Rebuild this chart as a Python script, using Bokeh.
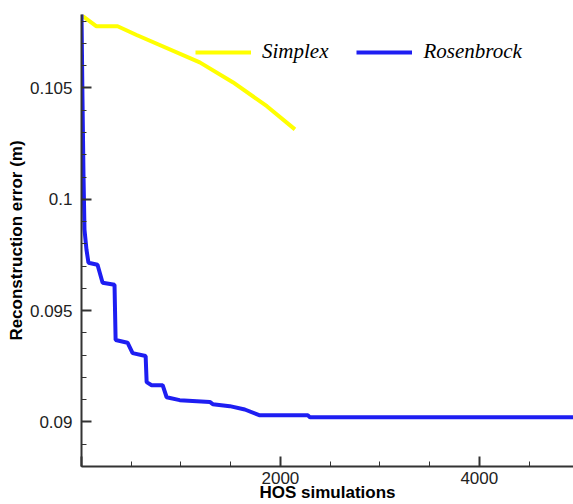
from bokeh.plotting import figure
from bokeh.models import (SingleIntervalTicker, CustomJSTickFormatter, Range1d,
                          Legend, LegendItem)
from bokeh.embed import file_html
from bokeh.resources import INLINE

# Simplex curve (HOS simulations, reconstruction error in m)
simplex_x = [0, 151, 363, 554, 1189, 1521, 1864, 2146]
simplex_y = [0.10827, 0.10777, 0.10777, 0.10738, 0.10615, 0.10526, 0.10418, 0.10314]

# Rosenbrock curve
rosen_x = [0, 10, 20, 30, 50, 70, 161, 212, 332, 343, 463, 514, 645, 655, 705,
           816, 856, 987, 1290, 1320, 1491, 1642, 1793, 2277, 2297, 5000]
rosen_y = [0.10832, 0.10449, 0.10111, 0.09864, 0.09774, 0.09715, 0.09706, 0.09625,
           0.09616, 0.09368, 0.09356, 0.09309, 0.09296, 0.09179, 0.09165, 0.09165,
           0.09111, 0.09098, 0.09090, 0.09080, 0.09071, 0.09056, 0.09030, 0.09030,
           0.09021, 0.09021]

series_names = ["Simplex", "Rosenbrock"]
x_label = "HOS simulations"
y_label = "Reconstruction error (m)"

p = figure(width=573, height=504, x_range=Range1d(0, 4947), y_range=Range1d(0.088, 0.1083),
           output_backend="svg", toolbar_location=None,
           min_border_left=81, min_border_top=14, min_border_right=0, min_border_bottom=38)
p.background_fill_color = "white"
p.border_fill_color = "white"
p.outline_line_color = None
p.xgrid.visible = False
p.ygrid.visible = False

r1 = p.line(simplex_x, simplex_y, line_color="#ffff00", line_width=4)
r2 = p.line(rosen_x, rosen_y, line_color="#1e1ef2", line_width=4)

legend = Legend(items=[LegendItem(label=series_names[0], renderers=[r1]),
                       LegendItem(label=series_names[1], renderers=[r2])],
                orientation="horizontal", location=(114, 402),
                glyph_width=56, glyph_height=20, label_standoff=11, spacing=28,
                padding=0, margin=0, border_line_color=None, background_fill_alpha=0,
                label_text_font="Liberation Serif", label_text_font_style="italic",
                label_text_font_size="21px", label_text_color="black")
p.add_layout(legend)

for ax in (p.xaxis[0], p.yaxis[0]):
    ax.axis_line_color = "#333333"
    ax.axis_line_width = 2
    ax.major_tick_line_color = "#333333"
    ax.major_tick_line_width = 2
    ax.minor_tick_line_color = "#333333"
    ax.minor_tick_line_width = 1
    ax.major_tick_in = 10
    ax.major_tick_out = 0
    ax.minor_tick_in = 5
    ax.minor_tick_out = 0
    ax.major_label_text_font = "Liberation Sans"
    ax.major_label_text_font_size = "17px"
    ax.major_label_text_color = "#222222"
    ax.axis_label_text_font = "Liberation Sans"
    ax.axis_label_text_font_style = "bold"
    ax.axis_label_text_font_size = "17px"
    ax.axis_label_text_color = "black"

p.xaxis[0].ticker = SingleIntervalTicker(interval=2000, num_minor_ticks=4)
p.yaxis[0].ticker = SingleIntervalTicker(interval=0.005, num_minor_ticks=5)
p.xaxis[0].formatter = CustomJSTickFormatter(code="return tick == 0 ? '' : tick.toFixed(0);")
p.yaxis[0].formatter = CustomJSTickFormatter(code="return parseFloat(tick.toFixed(4)).toString();")
p.xaxis[0].axis_label = x_label
p.yaxis[0].axis_label = y_label
p.xaxis[0].major_label_standoff = 5
p.xaxis[0].axis_label_standoff = -4
p.yaxis[0].major_label_standoff = 9
p.yaxis[0].axis_label_standoff = 1

open("out.html", "w").write(file_html(p, INLINE))
